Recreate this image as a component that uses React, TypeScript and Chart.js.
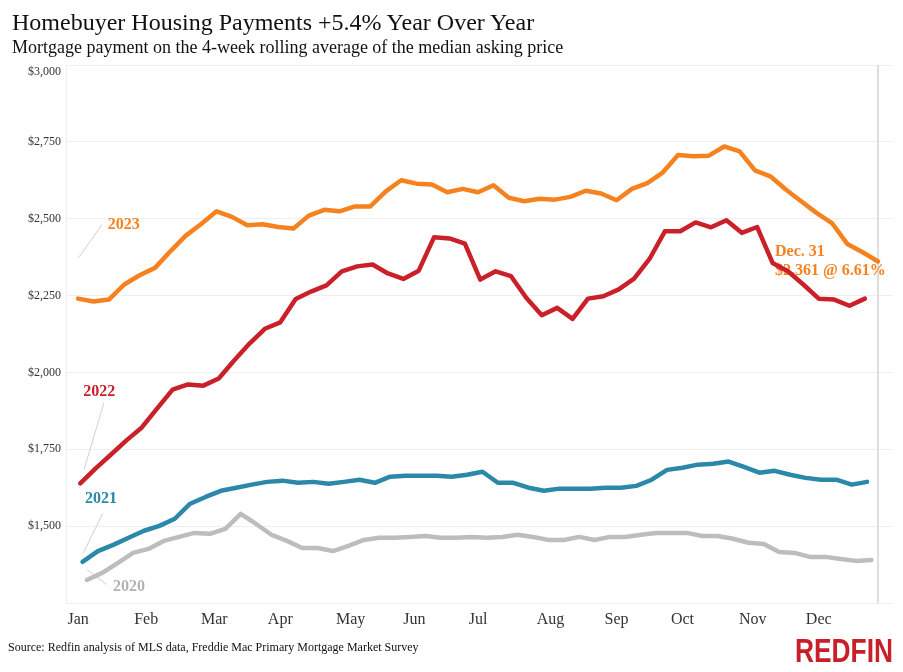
import React, { useEffect, useRef } from "react";
import { Chart, registerables } from "chart.js";

Chart.register(...registerables);

// ---------- DATA ----------
const monthLabels = ["Jan", "Feb", "Mar", "Apr", "May", "Jun", "Jul", "Aug", "Sep", "Oct", "Nov", "Dec"];
// day-of-year at which each month label sits on the axis
const monthTickDays = [0, 31, 62, 92, 124, 153, 182, 215, 245, 275, 307, 337];

// first weekly observation (day of year) for each year
const start2023 = 0;
const start2022 = 1;
const start2021 = 2;
const start2020 = 4;

const values2023 = [
  2240, 2231, 2237, 2286, 2316, 2340, 2394, 2445, 2483, 2524, 2506, 2479, 2482, 2473, 2468, 2510,
  2529, 2524, 2540, 2540, 2589, 2625, 2614, 2611, 2586, 2597, 2586, 2609, 2568, 2557, 2565, 2562,
  2571, 2591, 2582, 2560, 2597, 2616, 2650, 2707, 2703, 2705, 2735, 2719, 2657, 2638, 2595, 2557,
  2519, 2486, 2418, 2391, 2361,
];
const values2022 = [
  1639, 1688, 1733, 1779, 1821, 1883, 1944, 1961, 1957, 1980, 2039, 2094, 2142, 2163, 2239, 2263,
  2283, 2329, 2345, 2351, 2322, 2304, 2331, 2440, 2436, 2419, 2302, 2329, 2313, 2242, 2186, 2210,
  2174, 2240, 2248, 2270, 2305, 2369, 2459, 2459, 2488, 2472, 2495, 2454, 2473, 2356, 2329, 2286,
  2240, 2237, 2217, 2240,
];
const values2021 = [
  1384, 1419, 1439, 1462, 1485, 1501, 1524, 1573, 1595, 1615, 1625, 1635, 1644, 1648, 1641, 1644,
  1638, 1644, 1651, 1641, 1661, 1664, 1664, 1664, 1661, 1667, 1677, 1641, 1641, 1625, 1615, 1622,
  1622, 1622, 1625, 1625, 1631, 1651, 1683, 1690, 1700, 1703, 1710, 1693, 1674, 1680, 1667, 1657,
  1651, 1651, 1635, 1644,
];
const values2020 = [
  1325, 1348, 1380, 1413, 1426, 1452, 1465, 1478, 1475, 1491, 1540, 1507, 1472, 1452, 1429, 1429,
  1419, 1436, 1455, 1462, 1462, 1465, 1468, 1462, 1462, 1465, 1462, 1465, 1472, 1465, 1455, 1455,
  1465, 1455, 1465, 1465, 1472, 1478, 1478, 1478, 1468, 1468, 1459, 1446, 1442, 1416, 1413, 1400,
  1400, 1393, 1387, 1390,
];

const yTickMin = 1250;
const yTickMax = 3000;
const yTickStep = 250;
const lastDay = 364; // Dec. 31

// ---------- STYLE ----------
const SERIF = "'Liberation Serif', 'Times New Roman', serif";
const C2023 = "#f5821f";
const C2022 = "#c9202a";
const C2021 = "#2b88a8";
const C2020 = "#bdbdbd";
const C2020TEXT = "#b3b3b3";

const fmtDollar = (v: number) => "$" + v.toLocaleString("en-US");

const toPoints = (start: number, vals: number[]) =>
  vals.map((v, i) => ({ x: start + i * 7, y: v }));

// labels positioned in data coordinates [day, value]
const seriesLabels = [
  { text: "2023", color: C2023, at: [13.5, 2481], from: [0.2, 2373], to: [10.9, 2481] },
  { text: "2022", color: C2022, at: [2.3, 1938], from: [2.7, 1684], to: [11.8, 1902] },
  { text: "2021", color: C2021, at: [3.2, 1590], from: [2.4, 1413], to: [11.2, 1541] },
  { text: "2020", color: C2020TEXT, at: [15.9, 1301], from: [4, 1359], to: [13.1, 1310] },
];
const endNote = { lines: ["Dec. 31", "$2,361 @ 6.61%"], at: [317.1, 2391], lineGap: 19 };

const decorPlugin = {
  id: "decor",
  beforeDatasetsDraw(chart: any) {
    const { ctx, chartArea, scales } = chart;
    const xs = scales.x;
    const ys = scales.y;
    ctx.save();
    // top tick label, kept inside the plot's top edge
    ctx.font = `12px ${SERIF}`;
    ctx.fillStyle = "#333";
    ctx.textAlign = "right";
    ctx.textBaseline = "middle";
    ctx.fillText(fmtDollar(yTickMax), ys.right - 5, ys.getPixelForValue(yTickMax) + 7);

    // end-of-data vertical line
    const vx = xs.getPixelForValue(lastDay);
    ctx.strokeStyle = "#dedede";
    ctx.lineWidth = 2;
    ctx.beginPath();
    ctx.moveTo(vx, chartArea.top);
    ctx.lineTo(vx, chartArea.bottom);
    ctx.stroke();

    // leader lines + labels
    ctx.font = `bold 16px ${SERIF}`;
    ctx.textBaseline = "middle";
    ctx.textAlign = "left";
    for (const l of seriesLabels) {
      ctx.strokeStyle = "#d0d0d0";
      ctx.lineWidth = 1;
      ctx.beginPath();
      ctx.moveTo(xs.getPixelForValue(l.from[0]), ys.getPixelForValue(l.from[1]));
      ctx.lineTo(xs.getPixelForValue(l.to[0]), ys.getPixelForValue(l.to[1]));
      ctx.stroke();
      ctx.fillStyle = l.color;
      ctx.fillText(l.text, xs.getPixelForValue(l.at[0]), ys.getPixelForValue(l.at[1]));
    }
    // end note
    ctx.fillStyle = C2023;
    const nx = xs.getPixelForValue(endNote.at[0]);
    const ny = ys.getPixelForValue(endNote.at[1]);
    endNote.lines.forEach((t, i) => ctx.fillText(t, nx, ny + i * endNote.lineGap));
    ctx.restore();
  },
};

export default function App() {
  const ref = useRef<HTMLCanvasElement | null>(null);

  useEffect(() => {
    if (!ref.current) return;
    const mk = (label: string, start: number, vals: number[], color: string) => ({
      label,
      data: toPoints(start, vals),
      borderColor: color,
      backgroundColor: color,
      borderWidth: 4.5,
      pointRadius: 0,
      pointHoverRadius: 0,
      tension: 0,
      borderJoinStyle: "round" as const,
      borderCapStyle: "round" as const,
      fill: false,
    });
    const chart = new Chart(ref.current, {
      type: "line",
      data: {
        datasets: [
          mk("2023", start2023, values2023, C2023),
          mk("2022", start2022, values2022, C2022),
          mk("2021", start2021, values2021, C2021),
          mk("2020", start2020, values2020, C2020),
        ],
      },
      options: {
        animation: false,
        responsive: false,
        layout: { padding: { top: 65, right: 10, left: 0, bottom: 0 } },
        plugins: { legend: { display: false }, tooltip: { enabled: false }, title: { display: false } },
        scales: {
          x: {
            type: "linear",
            min: -5.5,
            max: 370.8,
            grid: { display: false, drawTicks: false },
            border: { display: false },
            afterBuildTicks: (s: any) => {
              s.ticks = monthTickDays.map((v) => ({ value: v }));
            },
            afterFit: (s: any) => {
              s.height = 69;
            },
            ticks: {
              autoSkip: false,
              maxRotation: 0,
              padding: 7,
              color: "#333",
              font: { family: SERIF, size: 16 },
              callback: (v: any) => monthLabels[monthTickDays.indexOf(Number(v))] ?? "",
            },
          },
          y: {
            min: yTickMin,
            max: yTickMax,
            grid: { color: "#efefef", drawTicks: false, lineWidth: 1 },
            border: { display: true, color: "#efefef" },
            afterFit: (s: any) => {
              s.width = 66;
            },
            ticks: {
              stepSize: yTickStep,
              padding: 5,
              color: "#333",
              font: { family: SERIF, size: 12 },
              callback: (v: any) =>
                Number(v) === yTickMin || Number(v) === yTickMax ? "" : fmtDollar(Number(v)),
            },
          },
        },
      },
      plugins: [decorPlugin],
    });
    return () => chart.destroy();
  }, []);

  return (
    <div style={{ position: "absolute", left: 0, top: 0, width: 903, height: 672, background: "#fff", overflow: "hidden" }}>
      <canvas ref={ref} width={903} height={672} style={{ position: "absolute", left: 0, top: 0, width: 903, height: 672 }} />
      <div style={{ position: "absolute", left: 12, top: 7, fontFamily: SERIF, fontSize: 24, color: "#111", whiteSpace: "nowrap", lineHeight: "30px" }}>
        Homebuyer Housing Payments +5.4% Year Over Year
      </div>
      <div style={{ position: "absolute", left: 12, top: 36, fontFamily: SERIF, fontSize: 18, color: "#111", whiteSpace: "nowrap", lineHeight: "22px" }}>
        Mortgage payment on the 4-week rolling average of the median asking price
      </div>
      <div style={{ position: "absolute", left: 8, top: 639, fontFamily: SERIF, fontSize: 12, color: "#111", whiteSpace: "nowrap", lineHeight: "16px" }}>
        Source: Redfin analysis of MLS data, Freddie Mac Primary Mortgage Market Survey
      </div>
      <svg width={100} height={36} style={{ position: "absolute", left: 795, top: 630 }}>
        <text
          x={0}
          y={32}
          textLength={98}
          lengthAdjust="spacingAndGlyphs"
          fill="#c8202a"
          style={{ fontFamily: "'Liberation Sans', 'DejaVu Sans', sans-serif", fontWeight: 700, fontSize: 33 }}
        >
          REDFIN
        </text>
      </svg>
    </div>
  );
}
